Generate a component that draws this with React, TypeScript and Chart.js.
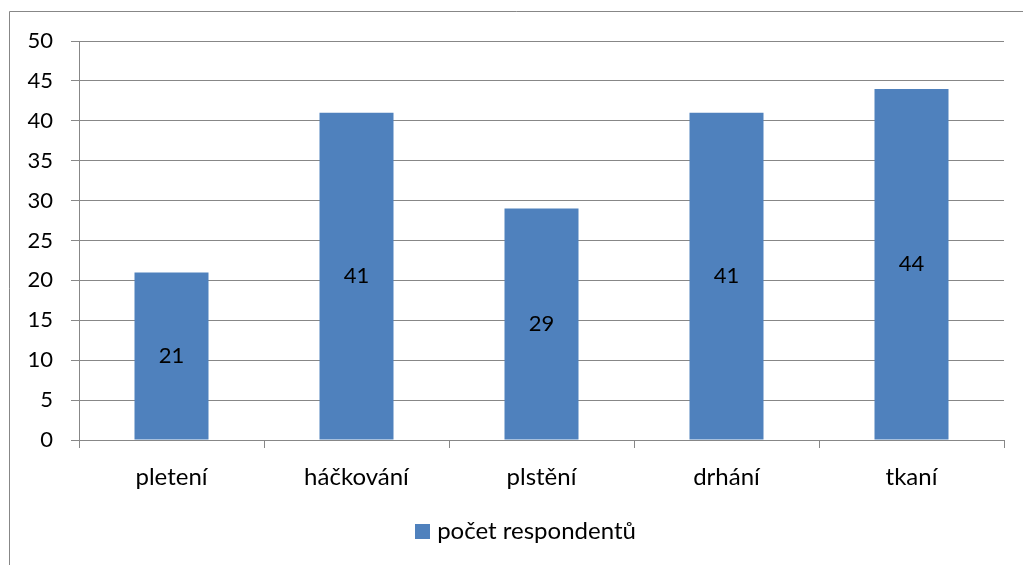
import React, { useEffect, useRef } from "react";
import { Chart, registerables } from "chart.js";

Chart.register(...registerables);

const categories = ["pletení", "háčkování", "plstění", "drhání", "tkaní"];
const seriesName = "počet respondentů";
const values = [21, 41, 29, 41, 44];
const yMin = 0;
const yMax = 50;
const yStep = 5;

const FONT = "Lato";
const NUM_SIZE = 22;
const TEXT_SIZE = 24;
const BAR_COLOR = "#4F81BD";
const LINE_COLOR = "#878787";

const framePlugin = {
  id: "frame",
  beforeDraw(chart: any) {
    const ctx = chart.ctx;
    ctx.save();
    ctx.strokeStyle = LINE_COLOR;
    ctx.lineWidth = 1;
    ctx.beginPath();
    ctx.moveTo(9.5, chart.height);
    ctx.lineTo(9.5, 11.5);
    ctx.lineTo(chart.width, 11.5);
    ctx.stroke();
    ctx.restore();
  },
};

const valueLabelPlugin = {
  id: "valueLabels",
  afterDatasetsDraw(chart: any) {
    const ctx = chart.ctx;
    const meta = chart.getDatasetMeta(0);
    const data = chart.data.datasets[0].data;
    ctx.save();
    ctx.font = `${NUM_SIZE}px ${FONT}`;
    ctx.fillStyle = "#000";
    ctx.textAlign = "center";
    ctx.textBaseline = "middle";
    meta.data.forEach((bar: any, i: number) => {
      const y = (bar.y + bar.base) / 2;
      ctx.fillText(String(data[i]), bar.x, y);
    });
    ctx.restore();
  },
};

const legendPlugin = {
  id: "manualLegend",
  afterDraw(chart: any) {
    const ctx = chart.ctx;
    const ds = chart.data.datasets[0];
    const box = 15;
    const gap = 7;
    ctx.save();
    ctx.font = `${TEXT_SIZE}px ${FONT}`;
    const tw = ctx.measureText(ds.label).width;
    const total = box + gap + tw;
    const cx = 525.5;
    const cy = 531.5;
    const x0 = cx - total / 2;
    ctx.fillStyle = ds.backgroundColor;
    ctx.fillRect(Math.round(x0), Math.round(cy - box / 2), box, box);
    ctx.fillStyle = "#000";
    ctx.textAlign = "left";
    ctx.textBaseline = "middle";
    ctx.fillText(ds.label, x0 + box + gap, cy);
    ctx.restore();
  },
};

export default function App() {
  const ref = useRef<HTMLCanvasElement | null>(null);

  useEffect(() => {
    document.body.style.margin = "0";
    const canvas = ref.current;
    if (!canvas) return;
    const chart = new Chart(canvas, {
      type: "bar",
      data: {
        labels: categories,
        datasets: [
          {
            label: seriesName,
            data: values,
            backgroundColor: BAR_COLOR,
            borderWidth: 0,
            barPercentage: 0.4,
            categoryPercentage: 1,
          },
        ],
      },
      options: {
        animation: false,
        responsive: false,
        devicePixelRatio: 1,
        layout: { padding: { left: 0, right: 19, top: 41, bottom: 65 } },
        plugins: {
          tooltip: { enabled: false },
          legend: { display: false },
        },
        scales: {
          x: {
            grid: {
              display: true,
              drawOnChartArea: false,
              drawTicks: true,
              tickLength: 8,
              color: LINE_COLOR,
              offset: true,
            },
            border: { display: true, color: LINE_COLOR, width: 1 },
            ticks: {
              color: "#000",
              padding: 15,
              maxRotation: 0,
              font: { family: FONT, size: TEXT_SIZE },
            },
            afterFit: (s: any) => {
              s.height = 60;
            },
          },
          y: {
            min: yMin,
            max: yMax,
            grid: {
              color: LINE_COLOR,
              drawTicks: true,
              tickLength: 8,
            },
            border: { display: true, color: LINE_COLOR, width: 1 },
            ticks: {
              stepSize: yStep,
              color: "#000",
              padding: 18,
              font: { family: FONT, size: NUM_SIZE },
            },
            afterFit: (s: any) => {
              s.width = 79;
            },
          },
        },
      },
      plugins: [framePlugin, valueLabelPlugin, legendPlugin],
    });
    return () => chart.destroy();
  }, []);

  return (
    <div style={{ width: 1023, height: 565, background: "#fff" }}>
      <canvas ref={ref} width={1023} height={565} style={{ display: "block" }} />
    </div>
  );
}
